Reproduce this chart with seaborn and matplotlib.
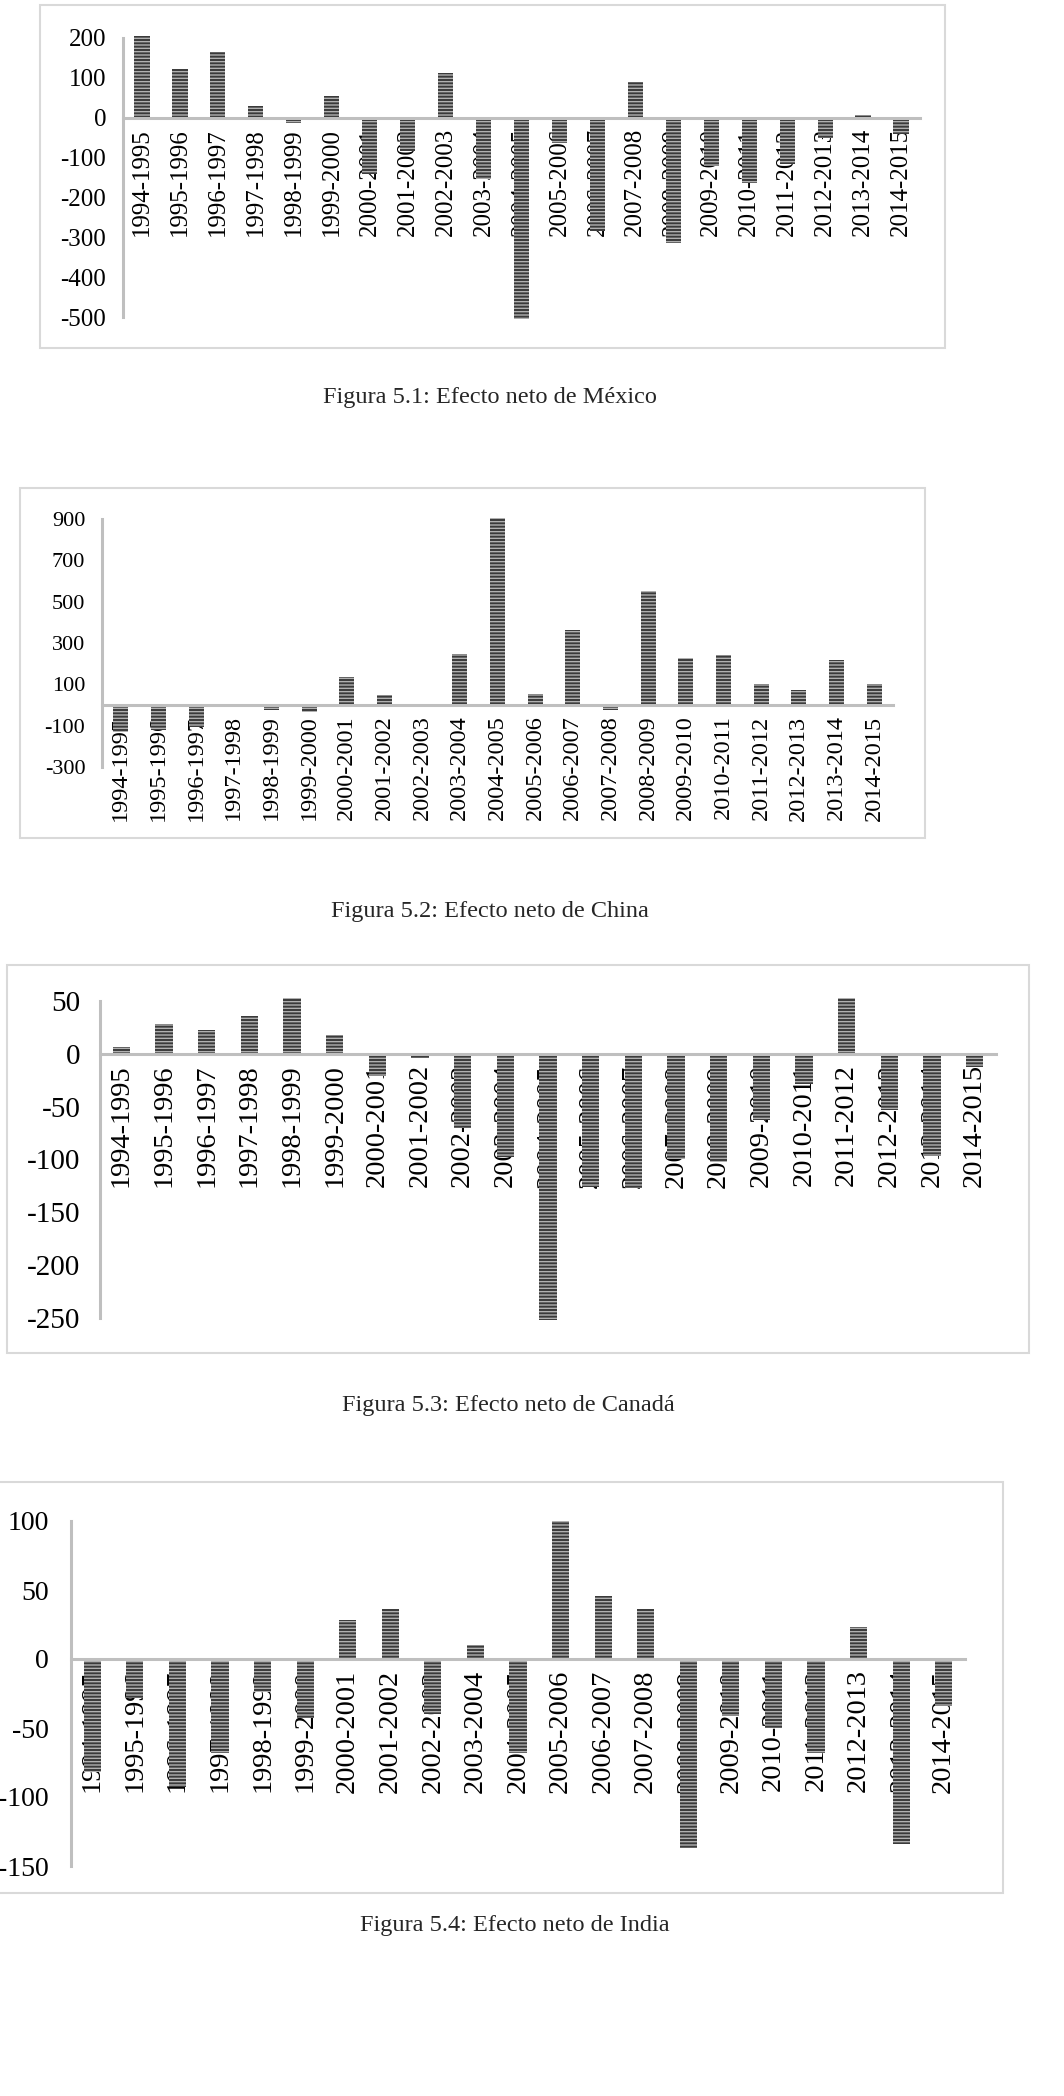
import matplotlib
matplotlib.use("Agg")
import matplotlib.pyplot as plt
from matplotlib.patches import Rectangle
import seaborn as sb
import pandas as pd

# periodos del eje x (los mismos en las cuatro figuras)
periodos = ["1994-1995", "1995-1996", "1996-1997", "1997-1998", "1998-1999",
            "1999-2000", "2000-2001", "2001-2002", "2002-2003", "2003-2004",
            "2004-2005", "2005-2006", "2006-2007", "2007-2008", "2008-2009",
            "2009-2010", "2010-2011", "2011-2012", "2012-2013", "2013-2014",
            "2014-2015"]

# efecto neto por pais
mexico = [205, 122, 165, 29, -13, 54, -142, -83, 113, -154, -505,
          -64, -285, 90, -315, -120, -165, -117, -51, 6, -42]
china = [-130, -122, -105, 0, -25, -33, 137, 48, 0, 246, 905,
         55, 362, -25, 552, 228, 242, 100, 74, 218, 102]
canada = [6, 28, 23, 36, 53, 18, -21, -4, -70, -98, -252,
          -126, -127, -100, -102, -63, -29, 53, -53, -97, -12]
india = [-82, -28, -93, -68, -24, -43, 28, 36, -40, 10, -68,
         100, 46, 36, -137, -41, -50, -68, 23, -134, -34]

# marcas del eje y
ticks_mexico = [-500, -400, -300, -200, -100, 0, 100, 200]
ticks_china = [-300, -100, 100, 300, 500, 700, 900]
ticks_canada = [-250, -200, -150, -100, -50, 0, 50]
ticks_india = [-150, -100, -50, 0, 50, 100]

titulos = ["Figura 5.1: Efecto neto de México",
           "Figura 5.2: Efecto neto de China",
           "Figura 5.3: Efecto neto de Canadá",
           "Figura 5.4: Efecto neto de India"]

W, H = 1064, 2096
GRIS_EJE = "#bfbfbf"
GRIS_MARCO = "#d9d9d9"
OSCURO = "#3a3a3a"
RAYA = "#b0b0b0"

sb.set_style("white")
plt.rcParams["font.family"] = ["Liberation Serif", "DejaVu Serif"]
plt.rcParams["axes.unicode_minus"] = False
plt.rcParams["hatch.linewidth"] = 1.0


def marco(fig, x0, y0, x1, y1):
    r = Rectangle((x0 / W, 1 - y1 / H), (x1 - x0) / W, (y1 - y0) / H,
                  transform=fig.transFigure, fill=False,
                  edgecolor=GRIS_MARCO, linewidth=1.5)
    fig.add_artist(r)


def panel(fig, valores, yticks, caja, fs_x, fs_y, pad_y):
    l, t, r, b = caja
    ax = fig.add_axes([l / W, 1 - b / H, (r - l) / W, (b - t) / H])
    df = pd.DataFrame({"periodo": periodos, "valor": valores})
    sb.barplot(data=df, x="periodo", y="valor", ax=ax, color=OSCURO,
               saturation=1, width=0.4, edgecolor=RAYA, linewidth=0,
               hatch="-----")
    for p in ax.patches:
        p.set_clip_on(False)
    ax.set_facecolor("none")
    ax.set_xlim(-0.5, 20.5)
    ax.set_ylim(yticks[0], yticks[-1])
    ax.set_xlabel("")
    ax.set_ylabel("")
    for s in ["top", "right"]:
        ax.spines[s].set_visible(False)
    ax.spines["left"].set_color(GRIS_EJE)
    ax.spines["left"].set_linewidth(2.2)
    ax.spines["bottom"].set_color(GRIS_EJE)
    ax.spines["bottom"].set_linewidth(2.2)
    ax.spines["bottom"].set_position(("data", 0))
    ax.set_xticks(list(range(len(periodos))) + [20.5])
    ax.set_xticklabels(periodos + [""], rotation=90)
    ax.set_yticks(yticks)
    ax.set_yticklabels([str(v) for v in yticks])
    ax.tick_params(axis="x", direction="inout", length=9, width=2.2,
                   color=GRIS_EJE, labelsize=fs_x, pad=3, labelcolor="black")
    ax.tick_params(axis="y", length=0, labelsize=fs_y, pad=pad_y,
                   labelcolor="black")
    return ax


fig = plt.figure(figsize=(W / 100, H / 100), dpi=100)

# Mexico
marco(fig, 40, 5, 945, 348)
panel(fig, mexico, ticks_mexico, (123, 38, 920, 317), 18, 18, 12)
fig.text(490 / W, 1 - 398 / H, titulos[0], ha="center", va="center", fontsize=17.5)

# China
marco(fig, 20, 488, 925, 838)
panel(fig, china, ticks_china, (102, 519, 893, 767), 17.5, 16, 12)
fig.text(490 / W, 1 - 912 / H, titulos[1], ha="center", va="center", fontsize=17.5)

# Canada
marco(fig, 7, 965, 1029, 1353)
panel(fig, canada, ticks_canada, (100, 1001, 996, 1318), 20.5, 21, 14)
fig.text(508 / W, 1 - 1405 / H, titulos[2], ha="center", va="center", fontsize=17.5)

# India
marco(fig, -5, 1482, 1003, 1893)
panel(fig, india, ticks_india, (71, 1521, 965, 1866), 20.5, 20, 16)
fig.text(515 / W, 1 - 1926 / H, titulos[3], ha="center", va="center", fontsize=17.5)

fig.savefig("out.png", dpi=100)
